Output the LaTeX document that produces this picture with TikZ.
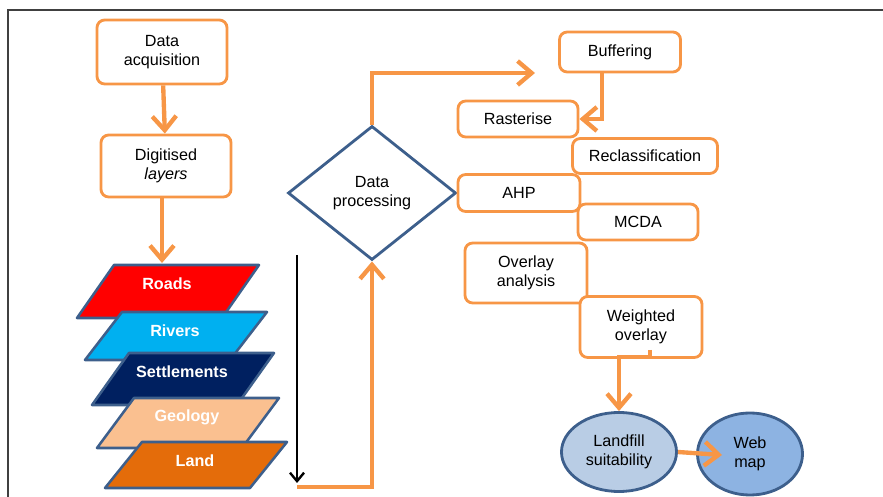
\documentclass[tikz,border=0pt]{standalone}
\usepackage{fontspec}
\setmainfont{Liberation Sans}
\usetikzlibrary{arrows.meta,shapes.geometric}
\definecolor{flowor}{HTML}{F79646}
\definecolor{edgeblue}{HTML}{3D5F8C}
\definecolor{framegray}{HTML}{404040}
\definecolor{roadred}{HTML}{FF0000}
\definecolor{riverblue}{HTML}{00B0F0}
\definecolor{settlenavy}{HTML}{002060}
\definecolor{geopeach}{HTML}{FAC090}
\definecolor{landorange}{HTML}{E46C0A}
\definecolor{suitblue}{HTML}{B9CDE5}
\definecolor{webblue}{HTML}{8DB3E2}
\begin{document}
\begin{tikzpicture}[x=0.025cm,y=-0.025cm,
  every node/.style={font=\fontsize{11.5}{13.5}\selectfont,align=center},
  stage/.style={rectangle,rounded corners=5.5pt,draw=flowor,line width=2pt,fill=white,inner sep=0pt},
  flow/.style={draw=flowor,line width=3.1pt,-{Straight Barb[length=10pt,width=17pt]}},
  layer/.style={draw=edgeblue,line width=1.8pt,line join=round},
  lbl/.style={text=white,font=\fontsize{11.5}{13.5}\selectfont\bfseries},
  blob/.style={ellipse,draw=edgeblue,line width=2pt,inner sep=0pt}]
  \useasboundingbox (0,0) rectangle (883,497);
  \draw[framegray,line width=1pt] (8,497) -- (8,10) -- (883,10);

  % left column
  \node[stage,minimum width=3.25cm,minimum height=1.6cm] (acq) at (162,52) {Data\\acquisition};
  \node[stage,minimum width=3.25cm,minimum height=1.55cm] (dig) at (166,166) {Digitised\\\textit{layers}};
  \coordinate (rdtop) at (162,263);

  % stacked layers
  \filldraw[layer,fill=roadred] (77,318) -- ++(145,0) -- ++(37,-53) -- ++(-145,0) -- cycle;
  \node[lbl] (roads) at (167,284) {Roads};
  \filldraw[layer,fill=riverblue] (85,360) -- ++(145,0) -- ++(37,-48) -- ++(-145,0) -- cycle;
  \node[lbl] (rivers) at (175,331) {Rivers};
  \filldraw[layer,fill=settlenavy] (92,405) -- ++(145,0) -- ++(37,-52) -- ++(-145,0) -- cycle;
  \node[lbl] (settle) at (182,372) {Settlements};
  \filldraw[layer,fill=geopeach] (97,448) -- ++(145,0) -- ++(37,-50) -- ++(-145,0) -- cycle;
  \node[lbl] (geo) at (187,417) {Geology};
  \filldraw[layer,fill=landorange] (105,488) -- ++(145,0) -- ++(37,-46) -- ++(-145,0) -- cycle;
  \node[lbl] (land) at (195,461) {Land};

  % processing
  \node[diamond,draw=edgeblue,line width=2pt,aspect=1.25,inner sep=0pt,
        minimum width=4.2cm,minimum height=3.35cm] (dp) at (372,193) {Data\\processing};
  \coordinate (bk1) at (297,255);
  \coordinate (bk2) at (297,483);
  \coordinate (loop) at (297,487);
  \coordinate (bfin) at (535,73);

  \node[stage,minimum width=3.025cm,minimum height=1cm] (buf) at (620,52) {Buffering};
  \node[stage,minimum width=3cm,minimum height=0.9cm] (ras) at (518,119) {Rasterise};
  \node[stage,minimum width=3.625cm,minimum height=0.875cm] (recl) at (645,156) {Reclassification};
  \node[stage,minimum width=3.05cm,minimum height=0.925cm] (ahp) at (519,193) {AHP};
  \node[stage,minimum width=3cm,minimum height=0.9cm] (mcda) at (638,222) {MCDA};
  \node[stage,minimum width=3.05cm,minimum height=1.5cm] (ovl) at (526,273) {Overlay\\analysis};
  \node[stage,minimum width=3.05cm,minimum height=1.525cm] (wov) at (641,327) {Weighted\\overlay};
  \coordinate (wout) at (650,350);

  \node[blob,fill=suitblue,minimum width=2.875cm,minimum height=1.975cm] (suit) at (619,452) {Landfill\\suitability};
  \node[blob,fill=webblue,minimum width=2.625cm,minimum height=2.05cm] (web) at (750,454) {Web\\map};
  \coordinate (webin) at (722,455);

  % connectors
  \draw[flow] (acq) -- (dig);
  \draw[flow] (dig.south -| rdtop) -- (rdtop);
  \draw[line width=1.7pt,-{Straight Barb[length=6pt,width=10pt]}] (bk1) -- (bk2);
  \draw[flow] (loop) -| (dp.south);
  \draw[flow] (dp.north) |- (bfin);
  \draw[flow] (buf.south -| 602,0) |- (ras.east);
  \draw[flow] (wout) -- ++(0,7) -| (suit.north);
  \draw[flow] (suit.east) -- (webin);
\end{tikzpicture}
\end{document}
